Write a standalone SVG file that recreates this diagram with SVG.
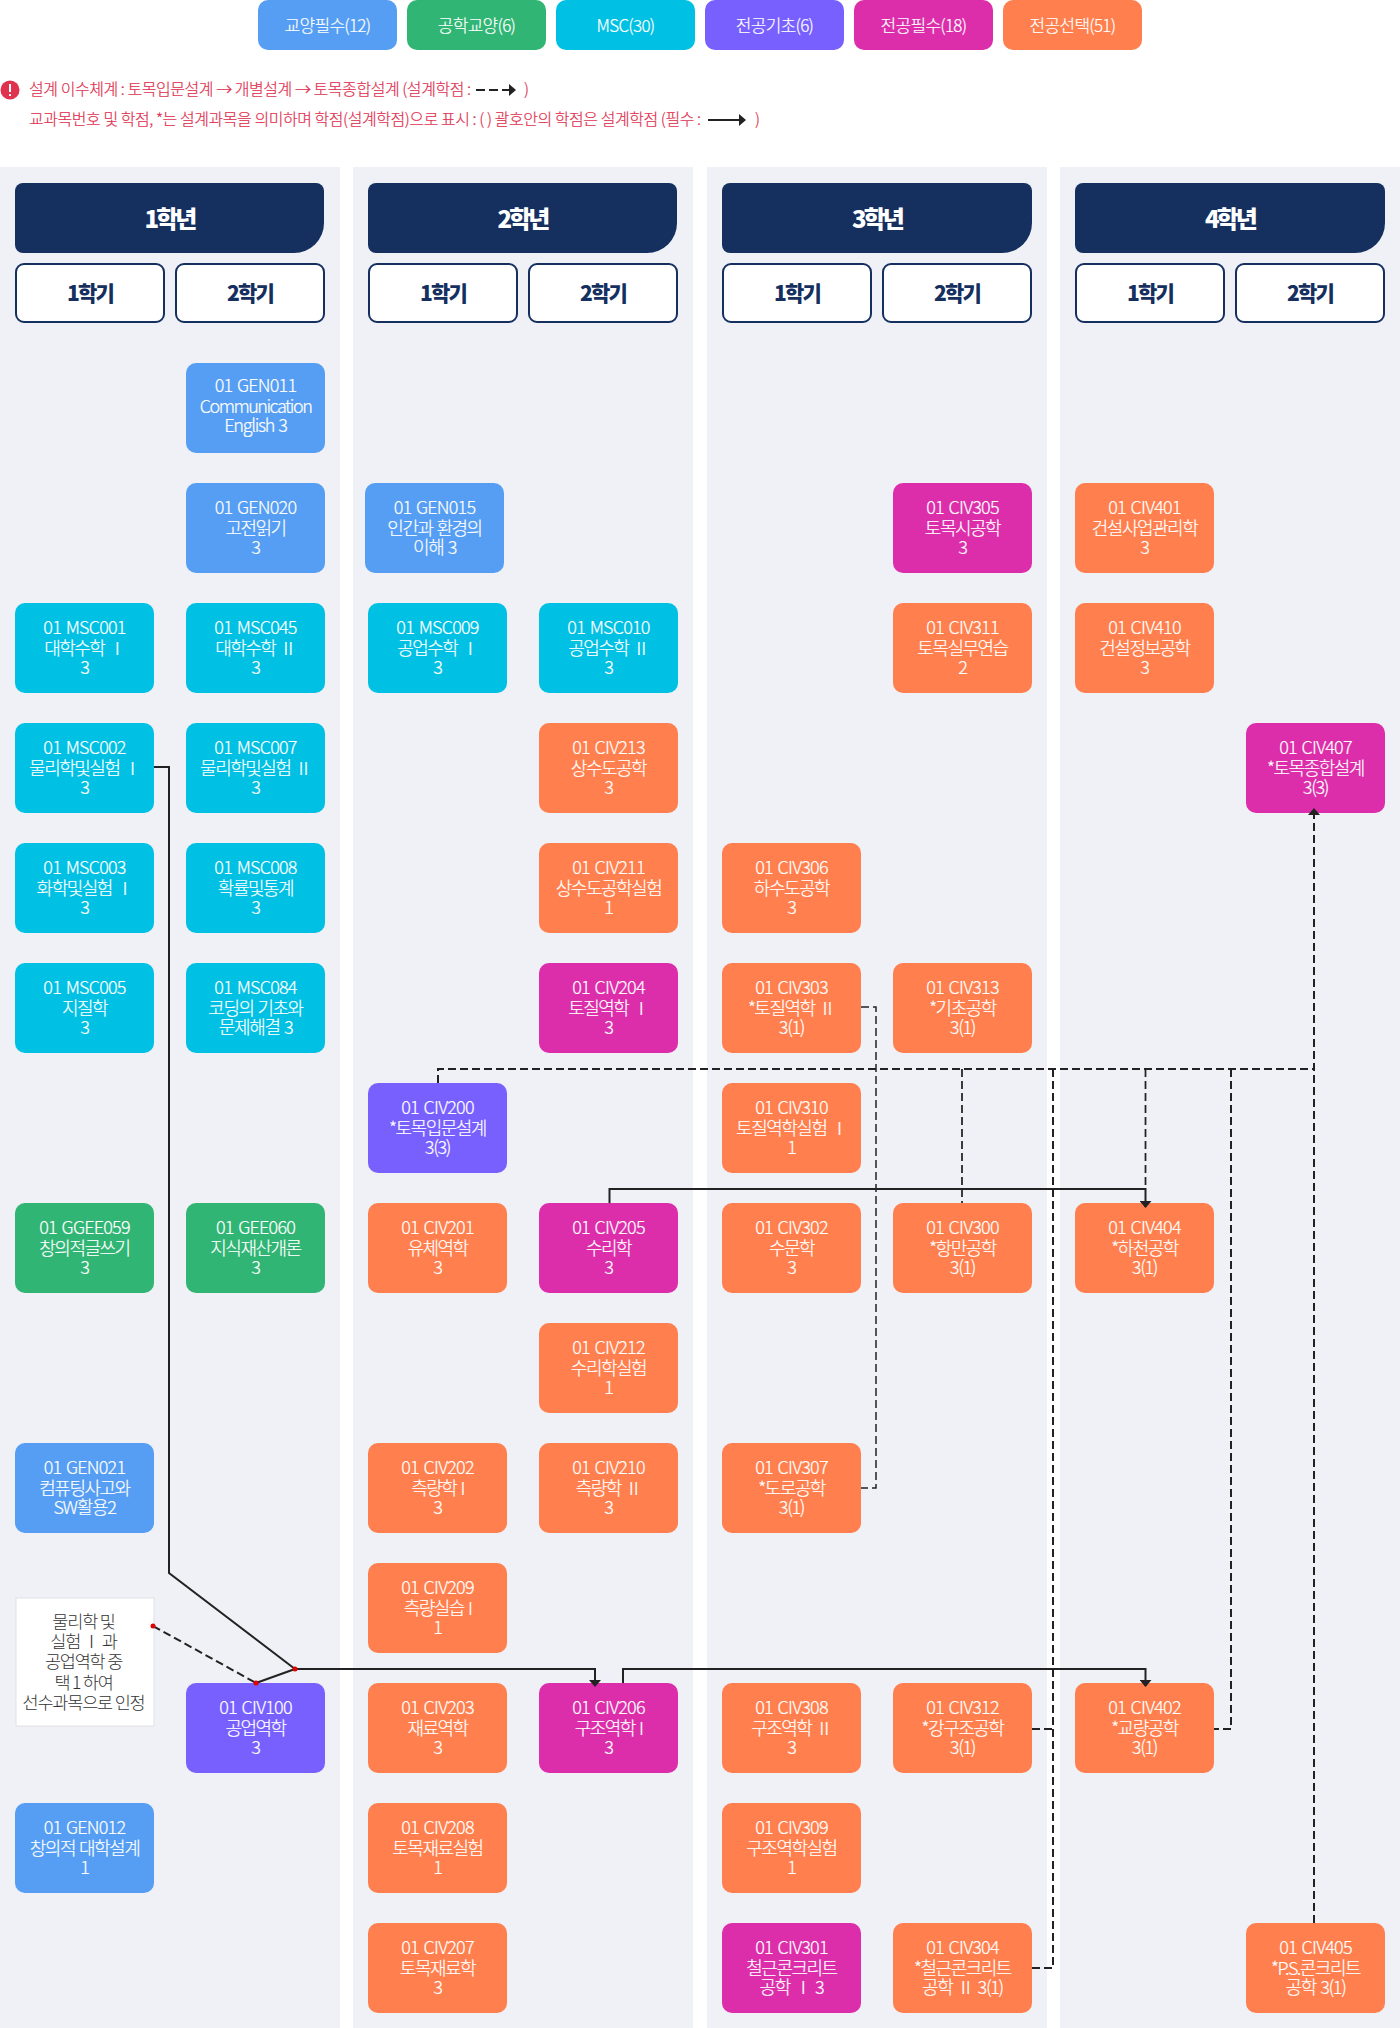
<svg xmlns="http://www.w3.org/2000/svg" width="1400" height="2028" viewBox="0 0 1400 2028">
<style>
text{font-family:"Noto Sans CJK KR","Noto Sans",sans-serif;text-anchor:middle}
.n text{font-size:18px;font-weight:300;letter-spacing:-1.3px;word-spacing:1.5px;fill:#fff;stroke:#fff;stroke-width:.2px}
.n tspan:first-child{letter-spacing:-.8px}
.n tspan:nth-child(2){letter-spacing:-1.5px}
.bl rect{fill:#569ef3}.gr rect{fill:#30b574}.cy rect{fill:#00c1e4}.pu rect{fill:#7860ff}.ma rect{fill:#dc2eaa}.or rect{fill:#ff7f4e}
.leg text{font-size:17px;font-weight:300;letter-spacing:-.7px;fill:#fff;stroke:#fff;stroke-width:.2px}
.yr text{font-size:24px;font-weight:900;letter-spacing:-3px;fill:#fff}
.yr path{fill:#152f5f}
.sem rect{fill:#fff;stroke:#152f5f;stroke-width:2}
.sem text{font-size:21px;font-weight:900;letter-spacing:-1.800px;fill:#152f5f}
.note{font-size:16px;font-weight:300;letter-spacing:-.45px;fill:#e0314f;stroke:#e0314f;stroke-width:.2px;text-anchor:start}
.panel{fill:#eff1f6}
.s{fill:none;stroke:#222;stroke-width:2}
.d{fill:none;stroke:#222;stroke-width:2;stroke-dasharray:8 4}
.m{fill:none;stroke:#222;stroke-width:1.750;stroke-dasharray:8 4}
.t{fill:none;stroke:#222;stroke-width:1.500;stroke-dasharray:8 4}
.dot{fill:#e00000}
</style>
<defs>
<marker id="ak" viewBox="0 0 7 12" refX="6" refY="6" markerWidth="7" markerHeight="12" markerUnits="userSpaceOnUse" orient="auto"><path d="M0 0L7 6L0 12Z" fill="#222"/></marker>
</defs>
<rect width="1400" height="2028" fill="#fff"/>
<g id="panels">
<rect class="panel" x="0" y="167" width="340" height="1861"/>
<rect class="panel" x="353" y="167" width="340" height="1861"/>
<rect class="panel" x="707" y="167" width="340" height="1861"/>
<rect class="panel" x="1060" y="167" width="340" height="1861"/>
</g>
<g id="legend" class="leg">
<g id="leg-gyoyang" class="bl"><rect x="258" y="0" width="139" height="50" rx="10"/><text x="327.500" y="32">교양필수(12)</text></g>
<g id="leg-gonghak" class="gr"><rect x="407" y="0" width="139" height="50" rx="10"/><text x="476.500" y="32">공학교양(6)</text></g>
<g id="leg-msc" class="cy"><rect x="556" y="0" width="139" height="50" rx="10"/><text x="625.500" y="32">MSC(30)</text></g>
<g id="leg-gicho" class="pu"><rect x="705" y="0" width="139" height="50" rx="10"/><text x="774.500" y="32">전공기초(6)</text></g>
<g id="leg-pilsu" class="ma"><rect x="854" y="0" width="139" height="50" rx="10"/><text x="923.500" y="32">전공필수(18)</text></g>
<g id="leg-seontaek" class="or"><rect x="1003" y="0" width="139" height="50" rx="10"/><text x="1072.500" y="32">전공선택(51)</text></g>
</g>
<g id="notes">
<circle cx="10" cy="90" r="9.500" fill="#e0314f"/>
<rect x="9" y="84" width="2" height="8" fill="#fff"/><rect x="9" y="94" width="2" height="2" fill="#fff"/>
<text class="note" x="29" y="95">설계 이수체계 : 토목입문설계 → 개별설계 → 토목종합설계 (설계학점 :</text>
<text class="note" x="524" y="95">)</text>
<text class="note" x="29" y="125">교과목번호 및 학점, *는 설계과목을 의미하며 학점(설계학점)으로 표시 : ( ) 괄호안의 학점은 설계학점 (필수 :</text>
<text class="note" x="755" y="125">)</text>
<path class="s" d="M476 90H515" stroke-width="2.500" stroke-dasharray="9 4" marker-end="url(#ak)"/>
<path class="s" d="M708 120H745" stroke-width="2.500" marker-end="url(#ak)"/>
</g>
<g id="headers">
<g id="y1" class="yr"><path d="M23 183H316a8 8 0 0 1 8 8V223a30 30 0 0 1-30 30H23a8 8 0 0 1-8-8V191a8 8 0 0 1 8-8Z"/><text x="169.500" y="228">1학년</text></g>
<g id="y2" class="yr"><path d="M376 183H669a8 8 0 0 1 8 8V223a30 30 0 0 1-30 30H376a8 8 0 0 1-8-8V191a8 8 0 0 1 8-8Z"/><text x="522.500" y="228">2학년</text></g>
<g id="y3" class="yr"><path d="M730 183H1024a8 8 0 0 1 8 8V223a30 30 0 0 1-30 30H730a8 8 0 0 1-8-8V191a8 8 0 0 1 8-8Z"/><text x="877" y="228">3학년</text></g>
<g id="y4" class="yr"><path d="M1083 183H1377a8 8 0 0 1 8 8V223a30 30 0 0 1-30 30H1083a8 8 0 0 1-8-8V191a8 8 0 0 1 8-8Z"/><text x="1230" y="228">4학년</text></g>
<g id="s11" class="sem"><rect x="16" y="264" width="148" height="58" rx="8"/><text x="90" y="301">1학기</text></g>
<g id="s12" class="sem"><rect x="176" y="264" width="148" height="58" rx="8"/><text x="250" y="301">2학기</text></g>
<g id="s21" class="sem"><rect x="369" y="264" width="148" height="58" rx="8"/><text x="443" y="301">1학기</text></g>
<g id="s22" class="sem"><rect x="529" y="264" width="148" height="58" rx="8"/><text x="603" y="301">2학기</text></g>
<g id="s31" class="sem"><rect x="723" y="264" width="148" height="58" rx="8"/><text x="797" y="301">1학기</text></g>
<g id="s32" class="sem"><rect x="883" y="264" width="148" height="58" rx="8"/><text x="957" y="301">2학기</text></g>
<g id="s41" class="sem"><rect x="1076" y="264" width="148" height="58" rx="8"/><text x="1150" y="301">1학기</text></g>
<g id="s42" class="sem"><rect x="1236" y="264" width="148" height="58" rx="8"/><text x="1310" y="301">2학기</text></g>
</g>
<g id="nodes">
<g id="GEN011" class="n bl" transform="translate(186,363)"><rect width="139" height="90" rx="10"/><text><tspan x="69.500" y="29">01 GEN011</tspan><tspan x="69.500" y="50">Communication</tspan><tspan x="69.500" y="69">English 3</tspan></text></g>
<g id="GEN020" class="n bl" transform="translate(186,483)"><rect width="139" height="90" rx="10"/><text><tspan x="69.500" y="31">01 GEN020</tspan><tspan x="69.500" y="51.500">고전읽기</tspan><tspan x="69.500" y="71">3</tspan></text></g>
<g id="GEN015" class="n bl" transform="translate(365,483)"><rect width="139" height="90" rx="10"/><text><tspan x="69.500" y="31">01 GEN015</tspan><tspan x="69.500" y="51.500">인간과 환경의</tspan><tspan x="69.500" y="71">이해 3</tspan></text></g>
<g id="CIV305" class="n ma" transform="translate(893,483)"><rect width="139" height="90" rx="10"/><text><tspan x="69.500" y="31">01 CIV305</tspan><tspan x="69.500" y="51.500">토목시공학</tspan><tspan x="69.500" y="71">3</tspan></text></g>
<g id="CIV401" class="n or" transform="translate(1075,483)"><rect width="139" height="90" rx="10"/><text><tspan x="69.500" y="31">01 CIV401</tspan><tspan x="69.500" y="51.500">건설사업관리학</tspan><tspan x="69.500" y="71">3</tspan></text></g>
<g id="MSC001" class="n cy" transform="translate(15,603)"><rect width="139" height="90" rx="10"/><text><tspan x="69.500" y="31">01 MSC001</tspan><tspan x="69.500" y="51.500">대학수학 Ⅰ</tspan><tspan x="69.500" y="71">3</tspan></text></g>
<g id="MSC045" class="n cy" transform="translate(186,603)"><rect width="139" height="90" rx="10"/><text><tspan x="69.500" y="31">01 MSC045</tspan><tspan x="69.500" y="51.500">대학수학 Ⅱ</tspan><tspan x="69.500" y="71">3</tspan></text></g>
<g id="MSC009" class="n cy" transform="translate(368,603)"><rect width="139" height="90" rx="10"/><text><tspan x="69.500" y="31">01 MSC009</tspan><tspan x="69.500" y="51.500">공업수학 Ⅰ</tspan><tspan x="69.500" y="71">3</tspan></text></g>
<g id="MSC010" class="n cy" transform="translate(539,603)"><rect width="139" height="90" rx="10"/><text><tspan x="69.500" y="31">01 MSC010</tspan><tspan x="69.500" y="51.500">공업수학 Ⅱ</tspan><tspan x="69.500" y="71">3</tspan></text></g>
<g id="CIV311" class="n or" transform="translate(893,603)"><rect width="139" height="90" rx="10"/><text><tspan x="69.500" y="31">01 CIV311</tspan><tspan x="69.500" y="51.500">토목실무연습</tspan><tspan x="69.500" y="71">2</tspan></text></g>
<g id="CIV410" class="n or" transform="translate(1075,603)"><rect width="139" height="90" rx="10"/><text><tspan x="69.500" y="31">01 CIV410</tspan><tspan x="69.500" y="51.500">건설정보공학</tspan><tspan x="69.500" y="71">3</tspan></text></g>
<g id="MSC002" class="n cy" transform="translate(15,723)"><rect width="139" height="90" rx="10"/><text><tspan x="69.500" y="31">01 MSC002</tspan><tspan x="69.500" y="51.500">물리학및실험 Ⅰ</tspan><tspan x="69.500" y="71">3</tspan></text></g>
<g id="MSC007" class="n cy" transform="translate(186,723)"><rect width="139" height="90" rx="10"/><text><tspan x="69.500" y="31">01 MSC007</tspan><tspan x="69.500" y="51.500">물리학및실험 Ⅱ</tspan><tspan x="69.500" y="71">3</tspan></text></g>
<g id="CIV213" class="n or" transform="translate(539,723)"><rect width="139" height="90" rx="10"/><text><tspan x="69.500" y="31">01 CIV213</tspan><tspan x="69.500" y="51.500">상수도공학</tspan><tspan x="69.500" y="71">3</tspan></text></g>
<g id="CIV407" class="n ma" transform="translate(1246,723)"><rect width="139" height="90" rx="10"/><text><tspan x="69.500" y="31">01 CIV407</tspan><tspan x="69.500" y="51.500">*토목종합설계</tspan><tspan x="69.500" y="71">3(3)</tspan></text></g>
<g id="MSC003" class="n cy" transform="translate(15,843)"><rect width="139" height="90" rx="10"/><text><tspan x="69.500" y="31">01 MSC003</tspan><tspan x="69.500" y="51.500">화학및실험 Ⅰ</tspan><tspan x="69.500" y="71">3</tspan></text></g>
<g id="MSC008" class="n cy" transform="translate(186,843)"><rect width="139" height="90" rx="10"/><text><tspan x="69.500" y="31">01 MSC008</tspan><tspan x="69.500" y="51.500">확률및통계</tspan><tspan x="69.500" y="71">3</tspan></text></g>
<g id="CIV211" class="n or" transform="translate(539,843)"><rect width="139" height="90" rx="10"/><text><tspan x="69.500" y="31">01 CIV211</tspan><tspan x="69.500" y="51.500">상수도공학실험</tspan><tspan x="69.500" y="71">1</tspan></text></g>
<g id="CIV306" class="n or" transform="translate(722,843)"><rect width="139" height="90" rx="10"/><text><tspan x="69.500" y="31">01 CIV306</tspan><tspan x="69.500" y="51.500">하수도공학</tspan><tspan x="69.500" y="71">3</tspan></text></g>
<g id="MSC005" class="n cy" transform="translate(15,963)"><rect width="139" height="90" rx="10"/><text><tspan x="69.500" y="31">01 MSC005</tspan><tspan x="69.500" y="51.500">지질학</tspan><tspan x="69.500" y="71">3</tspan></text></g>
<g id="MSC084" class="n cy" transform="translate(186,963)"><rect width="139" height="90" rx="10"/><text><tspan x="69.500" y="31">01 MSC084</tspan><tspan x="69.500" y="51.500">코딩의 기초와</tspan><tspan x="69.500" y="71">문제해결 3</tspan></text></g>
<g id="CIV204" class="n ma" transform="translate(539,963)"><rect width="139" height="90" rx="10"/><text><tspan x="69.500" y="31">01 CIV204</tspan><tspan x="69.500" y="51.500">토질역학 Ⅰ</tspan><tspan x="69.500" y="71">3</tspan></text></g>
<g id="CIV303" class="n or" transform="translate(722,963)"><rect width="139" height="90" rx="10"/><text><tspan x="69.500" y="31">01 CIV303</tspan><tspan x="69.500" y="51.500">*토질역학 Ⅱ</tspan><tspan x="69.500" y="71">3(1)</tspan></text></g>
<g id="CIV313" class="n or" transform="translate(893,963)"><rect width="139" height="90" rx="10"/><text><tspan x="69.500" y="31">01 CIV313</tspan><tspan x="69.500" y="51.500">*기초공학</tspan><tspan x="69.500" y="71">3(1)</tspan></text></g>
<g id="CIV200" class="n pu" transform="translate(368,1083)"><rect width="139" height="90" rx="10"/><text><tspan x="69.500" y="31">01 CIV200</tspan><tspan x="69.500" y="51.500">*토목입문설계</tspan><tspan x="69.500" y="71">3(3)</tspan></text></g>
<g id="CIV310" class="n or" transform="translate(722,1083)"><rect width="139" height="90" rx="10"/><text><tspan x="69.500" y="31">01 CIV310</tspan><tspan x="69.500" y="51.500">토질역학실험 Ⅰ</tspan><tspan x="69.500" y="71">1</tspan></text></g>
<g id="GGEE059" class="n gr" transform="translate(15,1203)"><rect width="139" height="90" rx="10"/><text><tspan x="69.500" y="31">01 GGEE059</tspan><tspan x="69.500" y="51.500">창의적글쓰기</tspan><tspan x="69.500" y="71">3</tspan></text></g>
<g id="GEE060" class="n gr" transform="translate(186,1203)"><rect width="139" height="90" rx="10"/><text><tspan x="69.500" y="31">01 GEE060</tspan><tspan x="69.500" y="51.500">지식재산개론</tspan><tspan x="69.500" y="71">3</tspan></text></g>
<g id="CIV201" class="n or" transform="translate(368,1203)"><rect width="139" height="90" rx="10"/><text><tspan x="69.500" y="31">01 CIV201</tspan><tspan x="69.500" y="51.500">유체역학</tspan><tspan x="69.500" y="71">3</tspan></text></g>
<g id="CIV205" class="n ma" transform="translate(539,1203)"><rect width="139" height="90" rx="10"/><text><tspan x="69.500" y="31">01 CIV205</tspan><tspan x="69.500" y="51.500">수리학</tspan><tspan x="69.500" y="71">3</tspan></text></g>
<g id="CIV302" class="n or" transform="translate(722,1203)"><rect width="139" height="90" rx="10"/><text><tspan x="69.500" y="31">01 CIV302</tspan><tspan x="69.500" y="51.500">수문학</tspan><tspan x="69.500" y="71">3</tspan></text></g>
<g id="CIV300" class="n or" transform="translate(893,1203)"><rect width="139" height="90" rx="10"/><text><tspan x="69.500" y="31">01 CIV300</tspan><tspan x="69.500" y="51.500">*항만공학</tspan><tspan x="69.500" y="71">3(1)</tspan></text></g>
<g id="CIV404" class="n or" transform="translate(1075,1203)"><rect width="139" height="90" rx="10"/><text><tspan x="69.500" y="31">01 CIV404</tspan><tspan x="69.500" y="51.500">*하천공학</tspan><tspan x="69.500" y="71">3(1)</tspan></text></g>
<g id="CIV212" class="n or" transform="translate(539,1323)"><rect width="139" height="90" rx="10"/><text><tspan x="69.500" y="31">01 CIV212</tspan><tspan x="69.500" y="51.500">수리학실험</tspan><tspan x="69.500" y="71">1</tspan></text></g>
<g id="GEN021" class="n bl" transform="translate(15,1443)"><rect width="139" height="90" rx="10"/><text><tspan x="69.500" y="31">01 GEN021</tspan><tspan x="69.500" y="51.500">컴퓨팅사고와</tspan><tspan x="69.500" y="71">SW활용2</tspan></text></g>
<g id="CIV202" class="n or" transform="translate(368,1443)"><rect width="139" height="90" rx="10"/><text><tspan x="69.500" y="31">01 CIV202</tspan><tspan x="69.500" y="51.500">측량학 I</tspan><tspan x="69.500" y="71">3</tspan></text></g>
<g id="CIV210" class="n or" transform="translate(539,1443)"><rect width="139" height="90" rx="10"/><text><tspan x="69.500" y="31">01 CIV210</tspan><tspan x="69.500" y="51.500">측량학 Ⅱ</tspan><tspan x="69.500" y="71">3</tspan></text></g>
<g id="CIV307" class="n or" transform="translate(722,1443)"><rect width="139" height="90" rx="10"/><text><tspan x="69.500" y="31">01 CIV307</tspan><tspan x="69.500" y="51.500">*도로공학</tspan><tspan x="69.500" y="71">3(1)</tspan></text></g>
<g id="CIV209" class="n or" transform="translate(368,1563)"><rect width="139" height="90" rx="10"/><text><tspan x="69.500" y="31">01 CIV209</tspan><tspan x="69.500" y="51.500">측량실습 I</tspan><tspan x="69.500" y="71">1</tspan></text></g>
<g id="CIV100" class="n pu" transform="translate(186,1683)"><rect width="139" height="90" rx="10"/><text><tspan x="69.500" y="31">01 CIV100</tspan><tspan x="69.500" y="51.500">공업역학</tspan><tspan x="69.500" y="71">3</tspan></text></g>
<g id="CIV203" class="n or" transform="translate(368,1683)"><rect width="139" height="90" rx="10"/><text><tspan x="69.500" y="31">01 CIV203</tspan><tspan x="69.500" y="51.500">재료역학</tspan><tspan x="69.500" y="71">3</tspan></text></g>
<g id="CIV206" class="n ma" transform="translate(539,1683)"><rect width="139" height="90" rx="10"/><text><tspan x="69.500" y="31">01 CIV206</tspan><tspan x="69.500" y="51.500">구조역학 I</tspan><tspan x="69.500" y="71">3</tspan></text></g>
<g id="CIV308" class="n or" transform="translate(722,1683)"><rect width="139" height="90" rx="10"/><text><tspan x="69.500" y="31">01 CIV308</tspan><tspan x="69.500" y="51.500">구조역학 Ⅱ</tspan><tspan x="69.500" y="71">3</tspan></text></g>
<g id="CIV312" class="n or" transform="translate(893,1683)"><rect width="139" height="90" rx="10"/><text><tspan x="69.500" y="31">01 CIV312</tspan><tspan x="69.500" y="51.500">*강구조공학</tspan><tspan x="69.500" y="71">3(1)</tspan></text></g>
<g id="CIV402" class="n or" transform="translate(1075,1683)"><rect width="139" height="90" rx="10"/><text><tspan x="69.500" y="31">01 CIV402</tspan><tspan x="69.500" y="51.500">*교량공학</tspan><tspan x="69.500" y="71">3(1)</tspan></text></g>
<g id="GEN012" class="n bl" transform="translate(15,1803)"><rect width="139" height="90" rx="10"/><text><tspan x="69.500" y="31">01 GEN012</tspan><tspan x="69.500" y="51.500">창의적 대학설계</tspan><tspan x="69.500" y="71">1</tspan></text></g>
<g id="CIV208" class="n or" transform="translate(368,1803)"><rect width="139" height="90" rx="10"/><text><tspan x="69.500" y="31">01 CIV208</tspan><tspan x="69.500" y="51.500">토목재료실험</tspan><tspan x="69.500" y="71">1</tspan></text></g>
<g id="CIV309" class="n or" transform="translate(722,1803)"><rect width="139" height="90" rx="10"/><text><tspan x="69.500" y="31">01 CIV309</tspan><tspan x="69.500" y="51.500">구조역학실험</tspan><tspan x="69.500" y="71">1</tspan></text></g>
<g id="CIV207" class="n or" transform="translate(368,1923)"><rect width="139" height="90" rx="10"/><text><tspan x="69.500" y="31">01 CIV207</tspan><tspan x="69.500" y="51.500">토목재료학</tspan><tspan x="69.500" y="71">3</tspan></text></g>
<g id="CIV301" class="n ma" transform="translate(722,1923)"><rect width="139" height="90" rx="10"/><text><tspan x="69.500" y="31">01 CIV301</tspan><tspan x="69.500" y="51.500">철근콘크리트</tspan><tspan x="69.500" y="71">공학 Ⅰ 3</tspan></text></g>
<g id="CIV304" class="n or" transform="translate(893,1923)"><rect width="139" height="90" rx="10"/><text><tspan x="69.500" y="31">01 CIV304</tspan><tspan x="69.500" y="51.500">*철근콘크리트</tspan><tspan x="69.500" y="71">공학 Ⅱ 3(1)</tspan></text></g>
<g id="CIV405" class="n or" transform="translate(1246,1923)"><rect width="139" height="90" rx="10"/><text><tspan x="69.500" y="31">01 CIV405</tspan><tspan x="69.500" y="51.500">*P.S.콘크리트</tspan><tspan x="69.500" y="71">공학 3(1)</tspan></text></g>
<g id="prereq-note"><rect x="16" y="1598" width="138" height="128" fill="#fff" stroke="#e2e2e2"/><text font-size="17.500px" font-weight="300" letter-spacing="-1.200" fill="#333"><tspan x="83.500" y="1627.500">물리학 및</tspan><tspan x="83.500" y="1648">실험 Ⅰ 과</tspan><tspan x="83.500" y="1668">공업역학 중</tspan><tspan x="83.500" y="1689">택 1 하여</tspan><tspan x="83.500" y="1709">선수과목으로 인정</tspan></text></g>
</g>
<g id="connectors">
<path class="t" d="M861 1007H876V1488H861"/>
<path class="d" d="M438 1083V1069H1314"/>
<path class="d" d="M1314 1923V809" marker-end="url(#ak)"/>
<path class="m" d="M962 1069V1203"/>
<path class="m" d="M1145.500 1069V1189"/>
<path class="d" d="M1231 1069V1729H1214"/>
<path class="d" d="M1053 1069V1968H1032"/>
<path class="d" d="M1032 1729H1053"/>
<path class="s" d="M154 767H169V1573L295 1669"/>
<path class="s" d="M295 1669L256 1683"/>
<path class="d" d="M153 1626L256 1683"/>
<path class="s" d="M295 1669H595V1686" marker-end="url(#ak)"/>
<path class="s" d="M623 1683V1669H1145.500V1686" marker-end="url(#ak)"/>
<path class="s" d="M609.500 1203V1189H1145.500V1207" marker-end="url(#ak)"/>
<circle class="dot" cx="153" cy="1626" r="2.500"/>
<circle class="dot" cx="256" cy="1683" r="2.500"/>
<circle class="dot" cx="295" cy="1669" r="2.500"/>
</g>
</svg>
